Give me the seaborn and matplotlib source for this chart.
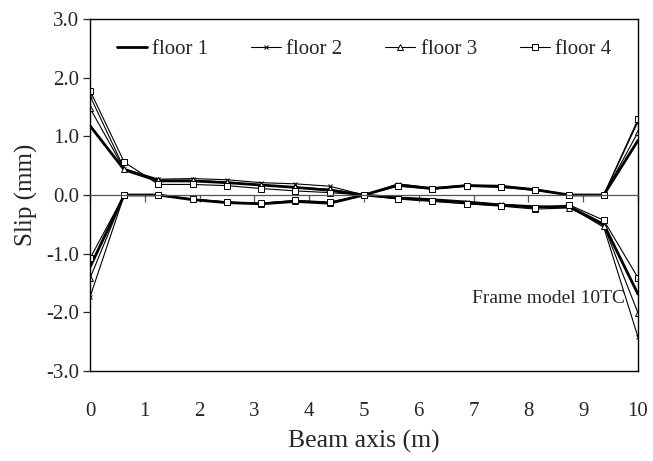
import matplotlib
matplotlib.use("Agg")
import matplotlib.pyplot as plt
import seaborn as sns
import pandas as pd
from matplotlib.ticker import FormatStrFormatter
from matplotlib.lines import Line2D

# ---- data ----
beam_x = [0, 0.625, 1.25, 1.875, 2.5, 3.125, 3.75, 4.375, 5.0,
          5.625, 6.25, 6.875, 7.5, 8.125, 8.75, 9.375, 10]

floors = ["floor 1", "floor 2", "floor 3", "floor 4"]

# branch A: positive on the left, negative on the right
floor1_a = [1.18, 0.43, 0.24, 0.24, 0.21, 0.17, 0.13, 0.08, 0.0, -0.05, -0.08, -0.12, -0.17, -0.20, -0.20, -0.50, -1.69]
floor2_a = [1.69, 0.45, 0.27, 0.28, 0.26, 0.21, 0.19, 0.15, 0.0, -0.04, -0.08, -0.12, -0.16, -0.20, -0.20, -0.55, -2.42]
floor3_a = [1.48, 0.44, 0.25, 0.25, 0.22, 0.17, 0.13, 0.10, 0.0, -0.06, -0.10, -0.15, -0.19, -0.24, -0.22, -0.52, -2.01]
floor4_a = [1.78, 0.56, 0.18, 0.18, 0.16, 0.11, 0.07, 0.04, 0.0, -0.07, -0.11, -0.15, -0.18, -0.22, -0.17, -0.43, -1.41]

# branch B: negative on the left, positive on the right
floor1_b = [-1.23, 0.0, 0.0, -0.08, -0.13, -0.15, -0.11, -0.14, 0.0, 0.17, 0.11, 0.16, 0.15, 0.09, 0.0, 0.0, 0.93]
floor2_b = [-1.74, 0.0, 0.0, -0.08, -0.13, -0.14, -0.10, -0.14, 0.0, 0.19, 0.12, 0.17, 0.15, 0.10, 0.0, 0.0, 1.25]
floor3_b = [-1.42, 0.0, 0.0, -0.07, -0.12, -0.15, -0.11, -0.13, 0.0, 0.16, 0.11, 0.16, 0.14, 0.09, 0.0, 0.0, 1.07]
floor4_b = [-1.08, 0.0, 0.0, -0.07, -0.12, -0.14, -0.09, -0.12, 0.0, 0.15, 0.10, 0.15, 0.13, 0.08, 0.0, 0.0, 1.29]

y_ticks = [-3.0, -2.0, -1.0, 0.0, 1.0, 2.0, 3.0]
x_ticks = [0, 1, 2, 3, 4, 5, 6, 7, 8, 9, 10]

series = {
    "floor 1": (floor1_a, floor1_b),
    "floor 2": (floor2_a, floor2_b),
    "floor 3": (floor3_a, floor3_b),
    "floor 4": (floor4_a, floor4_b),
}

rows = []
for fl, (a, b) in series.items():
    for xv, yv in zip(beam_x, a):
        rows.append({"x": xv, "slip": yv, "floor": fl, "branch": "A"})
    for xv, yv in zip(beam_x, b):
        rows.append({"x": xv, "slip": yv, "floor": fl, "branch": "B"})
df = pd.DataFrame(rows)

# ---- style ----
sns.set_theme(style="white")
plt.rcParams["font.family"] = ["Liberation Serif", "DejaVu Serif"]
plt.rcParams["axes.unicode_minus"] = False

styles = {
    "floor 1": dict(lw=2.0, marker=None, ms=0),
    "floor 2": dict(lw=0.8, marker="x", ms=3.5),
    "floor 3": dict(lw=0.8, marker="^", ms=3.8),
    "floor 4": dict(lw=0.8, marker="s", ms=3.8),
}

fig = plt.figure(figsize=(6.53, 4.61), dpi=100)
ax = fig.add_axes([0.1378, 0.1952, 0.977 - 0.1378, 0.9588 - 0.1952])

for fl in floors:
    st = styles[fl]
    for br in ["A", "B"]:
        sub = df[(df.floor == fl) & (df.branch == br)]
        kw = dict(x="x", y="slip", data=sub, ax=ax, color="black",
                  linewidth=st["lw"], sort=False, estimator=None, legend=False)
        if st["marker"]:
            kw.update(marker=st["marker"], markersize=st["ms"],
                      markerfacecolor="white" if st["marker"] != "x" else "black",
                      markeredgecolor="black", markeredgewidth=0.7)
        sns.lineplot(**kw)

ax.set_xlim(0, 10)
ax.set_ylim(-3, 3)
ax.set_xlabel("")

# zero axis with tick marks
ax.spines["bottom"].set_position(("data", 0))
ax.spines["bottom"].set_color("#555555")
ax.spines["bottom"].set_linewidth(0.9)
ax.set_xticks(x_ticks)
ax.tick_params(axis="x", direction="out", length=5, width=0.9, color="#555555",
               labelbottom=False, bottom=True)

# bottom frame with labels
sec = ax.secondary_xaxis(0.0)
sec.set_xticks(x_ticks)
sec.tick_params(axis="x", length=0, pad=22, labelsize=15)
sec.spines["bottom"].set_color("black")
sec.spines["bottom"].set_linewidth(1.0)
sec.set_xlabel("Beam axis (m)", fontsize=18.5, labelpad=7)

ax.set_yticks(y_ticks)
ax.yaxis.set_major_formatter(FormatStrFormatter("%.1f"))
ax.tick_params(axis="y", direction="out", length=5, width=0.9, left=True, labelsize=15, pad=3)
ax.set_ylabel("Slip (mm)", fontsize=18, labelpad=6)
for s in ["left", "top", "right"]:
    ax.spines[s].set_color("black")
    ax.spines[s].set_linewidth(1.0)

ax.text(0.836, 0.207, "Frame model 10TC", transform=ax.transAxes,
        ha="center", va="center", fontsize=14)

handles = []
for fl in floors:
    st = styles[fl]
    handles.append(Line2D([], [], color="black", lw=st["lw"] if fl == "floor 1" else 0.8,
                          marker=st["marker"], markersize=st["ms"],
                          markerfacecolor="white" if st["marker"] != "x" else "black",
                          markeredgecolor="black", markeredgewidth=0.7))
ax.legend(handles, floors, loc="upper center", bbox_to_anchor=(0.5, 0.995), ncol=4,
          frameon=False, fontsize=15, handlelength=1.45, handletextpad=0.25,
          columnspacing=2.05)

fig.savefig("out.png", dpi=100)
